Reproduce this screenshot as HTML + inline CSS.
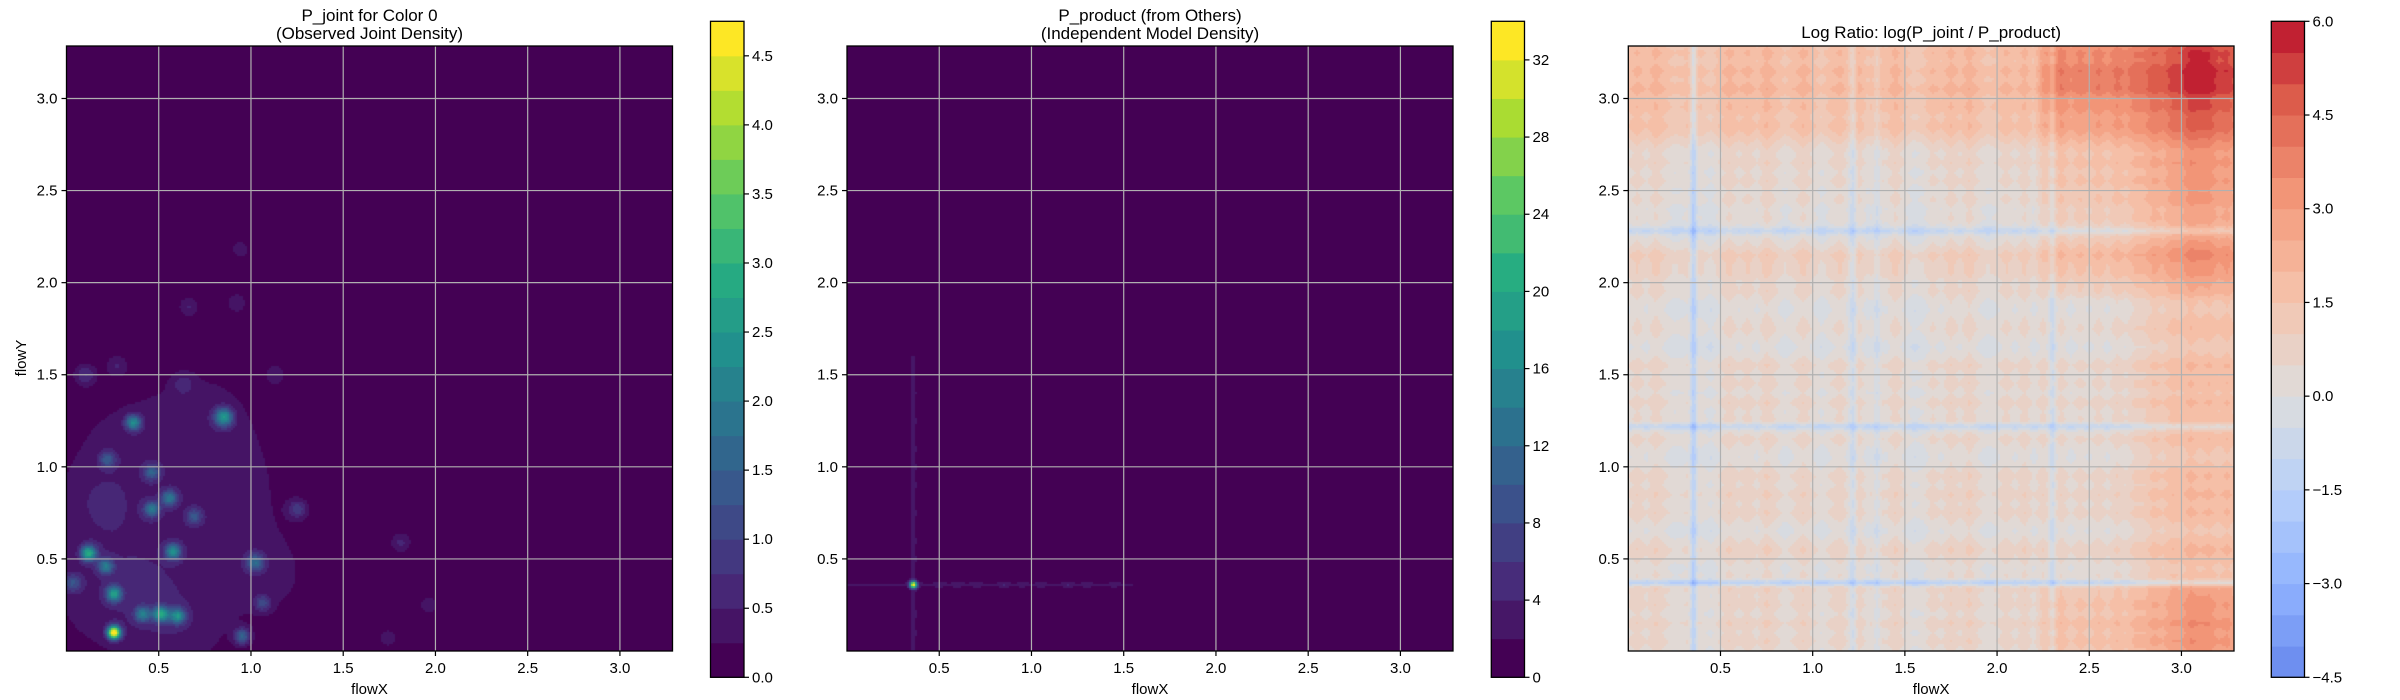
<!DOCTYPE html>
<html><head><meta charset="utf-8">
<style>
html,body{margin:0;padding:0;background:#fff;}
#root{position:relative;width:2400px;height:700px;overflow:hidden;font-family:"Liberation Sans","DejaVu Sans",sans-serif;}
canvas{position:absolute;}
svg{position:absolute;left:0;top:0;}
</style></head>
<body>
<div id="root">
<canvas id="c1"></canvas>
<canvas id="c2"></canvas>
<canvas id="c3"></canvas>
<svg id="ov" width="2400" height="700"></svg>
</div>
<script>
// ---------- data ----------
const blobX = [0.255,0.117,0.21,0.255,0.41,0.51,0.60,0.575,0.46,0.555,0.46,0.36,0.85,1.02,0.95,1.06,0.69,1.25,0.03,1.81,0.94,0.66,0.92,0.10,0.27,0.63,0.22,1.13,1.96,1.74,0.5,0.3,0.9,1.1,0.2,0.75,0.15,0.6];
const blobY = [0.10,0.53,0.46,0.31,0.20,0.20,0.19,0.54,0.77,0.83,0.97,1.24,1.27,0.48,0.08,0.26,0.73,0.77,0.37,0.59,2.18,1.87,1.89,1.50,1.55,1.45,1.04,1.50,0.25,0.07,0.5,1.1,0.9,0.4,0.3,1.3,0.8,0.1];
const blobAmp = [4.7,2.6,1.6,2.2,1.6,2.4,2.0,2.0,1.6,1.6,1.2,2.0,2.2,1.4,1.4,0.9,1.0,0.8,1.0,0.55,0.45,0.5,0.45,0.7,0.45,0.45,1.1,0.4,0.4,0.4,0.3,0.3,0.28,0.28,0.3,0.27,0.28,0.3];
const blobW = [0.025,0.03,0.03,0.03,0.03,0.03,0.03,0.03,0.03,0.03,0.03,0.03,0.035,0.035,0.03,0.03,0.03,0.035,0.035,0.04,0.035,0.04,0.04,0.04,0.04,0.04,0.03,0.04,0.04,0.04,0.3,0.25,0.25,0.2,0.25,0.22,0.15,0.2];
const levels1 = [0,0.25,0.5,0.75,1,1.25,1.5,1.75,2,2.25,2.5,2.75,3,3.25,3.5,3.75,4,4.25,4.5,4.75];
const ticks1 = [0,0.5,1.0,1.5,2.0,2.5,3.0,3.5,4.0,4.5];

const margXPos = [0.36,0.5,0.6,0.7,0.85,0.95,1.05,1.2,1.3,1.45];
const margXHt  = [5.4,0.3,0.25,0.25,0.3,0.2,0.25,0.3,0.2,0.15];
const margYPos = [0.36,0.1,0.2,0.5,0.6,0.75,0.9,1.0,1.1,1.25,1.4,1.55];
const margYHt  = [5.4,0.25,0.3,0.3,0.25,0.3,0.25,0.2,0.25,0.3,0.15,0.1];
const margBase = [0.4,0.03];
const margBaseEnd = [1.55,1.6];
const levels2 = [0,2,4,6,8,10,12,14,16,18,20,22,24,26,28,30,32,34];
const ticks2 = [0,4,8,12,16,20,24,28,32];

const colVals = [0.2,0.6,0.2,0.7,0.3,0.0,0.1,0.5,0.1,-0.2,0.3,0.7,0.3,0.6,0.2,0.8,0.4,0.0,0.3,0.7,0.3,-0.1,0.3,0.6,0.1,0.6,0.0,0.5,0.2,0.7,0.2,-0.2,0.0,0.5,0.2,0.7,0.3,0.8,0.3,0.0,0.2,0.6,0.2,0.7,0.1,0.6,0.2,0.6,0.1,0.5,0.2,0.6,0.2,0.7,0.4,0.9,0.9,1.4,1.2,1.6,1.5,1.9,1.6,1.8,1.5,1.8,1.3];
const rowVals = [0.5,0.9,0.6,1.0,0.5,0.9,0.7,1.1,0.6,0.3,0.7,1.0,0.6,0.2,0.5,0.9,0.6,1.0,0.6,0.9,0.5,0.2,0.4,0.8,0.3,0.7,0.5,0.9,0.4,0.8,0.5,0.9,0.4,0.1,0.4,0.7,0.5,0.2,0.4,0.8,0.6,1.0,1.0,1.3,0.7,0.3,0.1,0.5,0.3,0.7,0.4,0.8,0.5,0.9,0.6,1.0,1.5,1.9,1.6,2.0,1.8,2.3,1.9,2.2,1.8,2.1,1.6];
const interX = [0,0,0,0,0,0,0,0,0,0,0,0,0,0,0,0,0,0,0,0,0,0,0,1,1,1,1,1,1,1,1.2,1.5,1.2,1.0];
const interY = [1,1,1,0.8,0,0,0,0,0,0,0,0,0,0,0,0,0,0,0,0,0.6,0.8,1,0.8,0.9,1,1,1,1.1,1.3,1.5,2.0,1.8,1.5];
const streakXPos = [0.355,1.22,1.35,2.3];
const streakXVal = [-2.0,-1.0,-0.9,-0.9];
const streakYPos = [0.37,1.22,2.28];
const streakYVal = [-2.0,-1.2,-1.0];
const ratioOffset = -0.55;
const levels3 = [-4.5,-4,-3.5,-3,-2.5,-2,-1.5,-1,-0.5,0,0.5,1,1.5,2,2.5,3,3.5,4,4.5,5,5.5,6];
const ticks3 = [-4.5,-3.0,-1.5,0.0,1.5,3.0,4.5,6.0];

const axisTicks = [0.5,1.0,1.5,2.0,2.5,3.0];

// ---------- helpers ----------
const DMIN=0, DMAX=3.285;
const panels=[
 {l:66.5,t:46,r:672.5,b:651, cb:{l:710.5,r:744,t:21.3,b:677.3}},
 {l:847,t:46,r:1453,b:651, cb:{l:1491.3,r:1524.5,t:21.3,b:677.3}},
 {l:1628.3,t:46,r:2234,b:651, cb:{l:2271.3,r:2304.5,t:21.3,b:677.3}}
];
function lin(d0,d1,r0,r1){return v=>r0+(v-d0)/(d1-d0)*(r1-r0);}
function lerpStops(stops,t){t=Math.max(0,Math.min(1,t));const n=stops.length-1;const f=t*n;const i=Math.min(n-1,Math.floor(f));const u=f-i;const a=stops[i],b=stops[i+1];return [0,1,2].map(k=>Math.round(a[k]+(b[k]-a[k])*u));}
const viridis=[[68,1,84],[71,44,122],[59,81,139],[44,113,142],[33,144,141],[39,173,129],[92,200,99],[170,220,50],[253,231,37]];
const coolwarm=[[59,76,192],[98,130,234],[141,176,254],[184,208,249],[221,221,221],[245,196,173],[244,154,123],[222,96,77],[180,4,38]];
function bandColors(levels,stops){const n=levels.length-1;const out=[];for(let i=0;i<n;i++)out.push(lerpStops(stops,n>1?i/(n-1):0));return out;}
function bandColorsSym(levels,stops,lim){const n=levels.length-1;const out=[];for(let i=0;i<n;i++){const m=(levels[i]+levels[i+1])/2;out.push(lerpStops(stops,(m+lim)/(2*lim)));}return out;}
const col1=bandColors(levels1,viridis), col2=bandColors(levels2,viridis), col3=bandColorsSym(levels3,coolwarm,6.25);
function bandOf(levels,v){const n=levels.length-1;if(v<levels[0])return 0;for(let i=0;i<n;i++){if(v<levels[i+1])return i;}return n-1;}
function interpArr(arr,v,st){const f=v/st;let i=Math.floor(f);if(i<0)return arr[0];if(i>=arr.length-1)return arr[arr.length-1];const u=f-i;return arr[i]*(1-u)+arr[i+1]*u;}
function gauss(d,s){return Math.exp(-d*d/(2*s*s));}

function field1(x,y){let s=0;for(let i=0;i<blobX.length;i++){const dx=x-blobX[i],dy=y-blobY[i];const w=blobW[i];s+=blobAmp[i]*Math.exp(-(dx*dx+dy*dy)/(2*w*w));}return s;}
function marg(pos,ht,end,v){let s=v<end?margBase[0]:margBase[1];for(let i=0;i<pos.length;i++)s+=ht[i]*gauss(v-pos[i],i===0?0.014:0.016);return s;}
function field2(x,y){return marg(margXPos,margXHt,margBaseEnd[0],x)*marg(margYPos,margYHt,margBaseEnd[1],y);}
function field3(x,y){let v=ratioOffset+interpArr(colVals,x,0.05)+interpArr(rowVals,y,0.05)+interpArr(interX,x,0.1)*interpArr(interY,y,0.1);
 for(let i=0;i<streakXPos.length;i++)v+=streakXVal[i]*gauss(x-streakXPos[i],0.013);
 for(let i=0;i<streakYPos.length;i++)v+=streakYVal[i]*gauss(y-streakYPos[i],0.013);
 return v;}

function drawHeat(id,p,field,levels,cols){
 const c=document.getElementById(id);const w=Math.round(p.r-p.l),h=Math.round(p.b-p.t);
 c.width=w;c.height=h;c.style.left=p.l+'px';c.style.top=p.t+'px';
 const ctx=c.getContext('2d');const img=ctx.createImageData(w,h);
 const fx=lin(0,w,DMIN,DMAX), fy=lin(0,h,DMAX,DMIN);const step=2;
 for(let py=0;py<h;py+=step){for(let px=0;px<w;px+=step){
  const v=field(fx(px+step/2),fy(py+step/2));const cc=cols[bandOf(levels,v)];
  for(let yy=py;yy<Math.min(h,py+step);yy++)for(let xx=px;xx<Math.min(w,px+step);xx++){const k=(yy*w+xx)*4;img.data[k]=cc[0];img.data[k+1]=cc[1];img.data[k+2]=cc[2];img.data[k+3]=255;}
 }}
 ctx.putImageData(img,0,0);
}
drawHeat('c1',panels[0],field1,levels1,col1);
drawHeat('c2',panels[1],field2,levels2,col2);
drawHeat('c3',panels[2],field3,levels3,col3);

// ---------- overlay ----------
const NS='http://www.w3.org/2000/svg';const ov=document.getElementById('ov');
function el(tag,attrs,parent){const e=document.createElementNS(NS,tag);for(const k in attrs)e.setAttribute(k,attrs[k]);(parent||ov).appendChild(e);return e;}
function txt(s,x,y,anchor,size,parent){const t=el('text',{x:x,y:y,'text-anchor':anchor,'font-size':size,fill:'#000'},parent);t.textContent=s;return t;}
function fmt(v){return (v<0?'\u2212':'')+Math.abs(v).toFixed(1);}

const titles=[["P_joint for Color 0","(Observed Joint Density)"],["P_product (from Others)","(Independent Model Density)"],["Log Ratio: log(P_joint / P_product)"]];
const cbData=[[levels1,col1,ticks1,v=>v.toFixed(1)],[levels2,col2,ticks2,v=>String(v)],[levels3,col3,ticks3,fmt]];
panels.forEach((p,pi)=>{
 const g=el('g',{});
 
 
 const sx=lin(DMIN,DMAX,p.l,p.r), sy=lin(DMIN,DMAX,p.b,p.t);
 axisTicks.forEach(t=>{
  const gx=el('line',{x1:sx(t),x2:sx(t),y1:p.t,y2:p.b,stroke:'#b0b0b0','stroke-width':1.2},g);
  
  
  const gy=el('line',{x1:p.l,x2:p.r,y1:sy(t),y2:sy(t),stroke:'#b0b0b0','stroke-width':1.2},g);
  
  
  el('line',{x1:sx(t),x2:sx(t),y1:p.b,y2:p.b+5,stroke:'#000','stroke-width':1.2},g);
  el('line',{x1:p.l-5,x2:p.l,y1:sy(t),y2:sy(t),stroke:'#000','stroke-width':1.2},g);
  const xl=txt(t.toFixed(1),sx(t),p.b+22,'middle',15,g);
  
  
  const yl=txt(t.toFixed(1),p.l-9,sy(t)+5,'end',15,g);
  
  
 });
 el('rect',{x:p.l,y:p.t,width:p.r-p.l,height:p.b-p.t,fill:'none',stroke:'#000','stroke-width':1.3},g);
 const xt=txt('flowX',(p.l+p.r)/2,694,'middle',15,g);
 
 
 const cx=(p.l+p.r)/2;const tl=titles[pi];
 if(tl.length===2){const a=txt(tl[0],cx,21,'middle',17,g);
  const b=txt(tl[1],cx,39,'middle',17,g);}
 else{const a=txt(tl[0],cx,38,'middle',17,g);}
 const cb=p.cb;const [lv,cols,tks,f]=cbData[pi];
 const cy=lin(lv[0],lv[lv.length-1],cb.b,cb.t);
 const cg=el('g',{},g);
 
 
 for(let i=0;i<lv.length-1;i++){
  const r=el('rect',{x:cb.l,y:cy(lv[i+1]),width:cb.r-cb.l,height:cy(lv[i])-cy(lv[i+1])+0.5,fill:'rgb('+cols[i].join(',')+')'},cg);
  
  
 }
 el('rect',{x:cb.l,y:cb.t,width:cb.r-cb.l,height:cb.b-cb.t,fill:'none',stroke:'#000','stroke-width':1.3},cg);
 tks.forEach(t=>{
  el('line',{x1:cb.r,x2:cb.r+5,y1:cy(t),y2:cy(t),stroke:'#000','stroke-width':1.2},cg);
  const l=txt(f(t),cb.r+8,cy(t)+5,'start',15,cg);
  
  
 });
});
const yt=txt('flowY',0,0,'middle',15);
yt.setAttribute('transform','translate(26,358) rotate(-90)');


</script>
</body></html>
